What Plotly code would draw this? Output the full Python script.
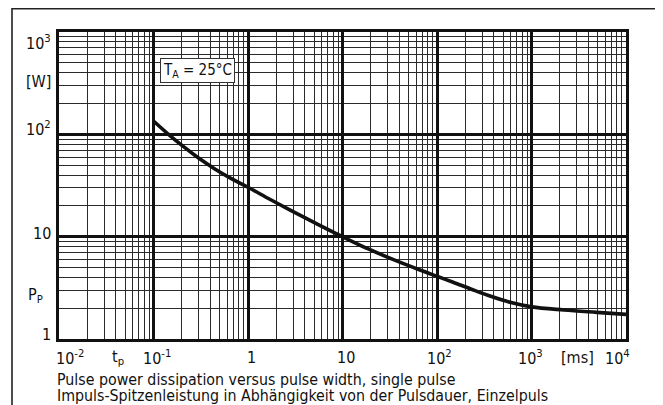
import plotly.graph_objects as go

# ---- data ----
t_ms = [0.1, 0.144, 0.2, 0.3, 0.446, 0.667, 1.0, 1.72, 2.83, 5.48, 10.0, 19.0, 36.8, 65.0,
        100.0, 146.0, 235.0, 378.0, 608.0, 1000.0, 2200.0, 4900.0, 10000.0]
p_w = [135, 100, 77.9, 58.7, 45.9, 36.9, 30.4, 23.1, 18.1, 13.2, 10.0, 7.54, 5.83, 4.75,
       4.10, 3.61, 3.05, 2.60, 2.27, 2.06, 1.92, 1.82, 1.74]

x_decades = [-2, -1, 0, 1, 2, 3, 4]
x_tick_text = ["10<sup>-2</sup>", "10<sup>-1</sup>", "1", "10", "10<sup>2</sup>", "10<sup>3</sup>", "10<sup>4</sup>"]
y_decades = [0, 1, 2, 3]
y_tick_text = ["1", "10", "10<sup>2</sup>", "10<sup>3</sup>"]

caption_1 = "Pulse power dissipation versus pulse width, single pulse"
caption_2 = "Impuls-Spitzenleistung in Abhängigkeit von der Pulsdauer, Einzelpuls"
x_name = "t<sub>p</sub>"
x_unit = "[ms]"
y_name = "P<sub>P</sub>"
y_unit = "[W]"
cond_text = "T<sub>A</sub> = 25°C"

# ---- layout geometry (viewport pixels; page body has an 8px margin) ----
OFF = 8
W, H = 663 - OFF, 405 - OFF
L, R, T, B = 59, 626, 32, 339
FONT = "DejaVu Sans Condensed, Liberation Sans Narrow, DejaVu Sans, sans-serif"


def px_x(px):
    return (px - L) / (R - L)


def px_y(py):
    return (B - py) / (B - T)


minor_x = [m * 10.0 ** d for d in range(-2, 4) for m in range(2, 10)]
minor_y = [m * 10.0 ** d for d in range(0, 3) for m in range(2, 10)]
major_x = [10.0 ** d for d in x_decades]
major_y = [10.0 ** d for d in y_decades]

fig = go.Figure()

# invisible trace to activate the overlay axes carrying the decade grid
fig.add_trace(go.Scatter(x=[major_x[0], major_x[-1]], y=[major_y[0], major_y[-1]],
                         xaxis="x2", yaxis="y2", mode="markers",
                         marker=dict(opacity=0), hoverinfo="skip", showlegend=False))

fig.add_trace(go.Scatter(x=t_ms, y=p_w, mode="lines",
                         line=dict(color="#111111", width=3.6, shape="spline", smoothing=1.0),
                         showlegend=False))

common = dict(type="log", showticklabels=False, ticks="", zeroline=False)
fig.update_layout(
    width=W, height=H,
    margin=dict(l=L - OFF, r=W - (R - OFF), t=T - OFF, b=H - (B - OFF)),
    paper_bgcolor="white", plot_bgcolor="white",
    font=dict(family=FONT, size=16, color="#111111"),
    xaxis=dict(range=[-2, 4], tickvals=minor_x, showgrid=True, gridcolor="#2a2a2a", gridwidth=1.2,
               showline=True, mirror=True, linecolor="#111111", linewidth=3, **common),
    yaxis=dict(range=[0, 3], tickvals=minor_y, showgrid=True, gridcolor="#2a2a2a", gridwidth=1.2,
               showline=True, mirror=True, linecolor="#111111", linewidth=3, **common),
    xaxis2=dict(range=[-2, 4], overlaying="x", tickvals=major_x, showgrid=True,
                gridcolor="#111111", gridwidth=3, showline=False, **common),
    yaxis2=dict(range=[0, 3], overlaying="y", tickvals=major_y, showgrid=True,
                gridcolor="#111111", gridwidth=3, showline=False, **common),
)

ann = []
TICK = 16
# x tick labels
x_shift = [11, 3, 3, 3, 2, -1, -9]
for d, txt, sh in zip(x_decades, x_tick_text, x_shift):
    ann.append(dict(x=d, xref="x", y=px_y(357), yref="paper", text=txt, showarrow=False,
                    xanchor="center", yanchor="middle", xshift=sh, font=dict(size=TICK)))
ann.append(dict(x=px_x(118), xref="paper", y=px_y(357), yref="paper", text=x_name,
                showarrow=False, xanchor="center", yanchor="middle", font=dict(size=TICK)))
ann.append(dict(x=px_x(577), xref="paper", y=px_y(357), yref="paper", text=x_unit,
                showarrow=False, xanchor="center", yanchor="middle", font=dict(size=TICK)))

# y tick labels
y_label_py = [334, 233, 128, 42]
for txt, py in zip(y_tick_text, y_label_py):
    ann.append(dict(x=px_x(53), xref="paper", y=px_y(py), yref="paper", text=txt, showarrow=False,
                    xanchor="right", yanchor="middle", font=dict(size=TICK)))
ann.append(dict(x=px_x(53), xref="paper", y=px_y(82), yref="paper", text=y_unit, showarrow=False,
                xanchor="right", yanchor="middle", font=dict(size=TICK)))
ann.append(dict(x=px_x(45), xref="paper", y=px_y(295), yref="paper", text=y_name, showarrow=False,
                xanchor="right", yanchor="middle", font=dict(size=TICK)))

# captions
CAP = 15.8
ann.append(dict(x=px_x(55), xref="paper", y=px_y(379), yref="paper", text=caption_1, showarrow=False,
                xanchor="left", yanchor="middle", font=dict(size=CAP)))
ann.append(dict(x=px_x(55), xref="paper", y=px_y(395), yref="paper", text=caption_2, showarrow=False,
                xanchor="left", yanchor="middle", font=dict(size=CAP)))

# condition box
ann.append(dict(x=px_x(197), xref="paper", y=px_y(70), yref="paper", text=cond_text, showarrow=False,
                xanchor="center", yanchor="middle", font=dict(size=15),
                bgcolor="white", bordercolor="#333333", borderwidth=1, borderpad=2))

fig.update_layout(annotations=ann)

# outer frame
fig.add_shape(type="rect", xref="paper", yref="paper",
              x0=px_x(12), x1=px_x(661), y0=px_y(430), y1=px_y(OFF + 0.8),
              line=dict(color="#222222", width=1.6), layer="below")

fig.write_html("out.html")
